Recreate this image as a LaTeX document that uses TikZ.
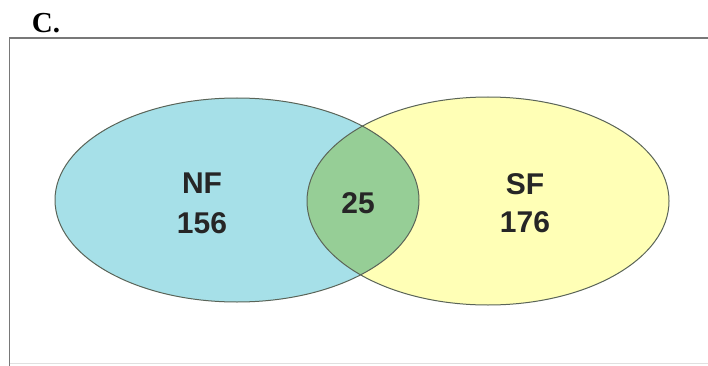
\documentclass[tikz,border=0pt]{standalone}
\usepackage{fontspec}
\setmainfont{Liberation Serif}
\newfontfamily\labelfont{Liberation Sans}
\definecolor{nfcyan}{RGB}{166,224,232}
\definecolor{sfyellow}{RGB}{255,255,182}
\definecolor{overlapgreen}{RGB}{150,206,150}
\definecolor{rimline}{RGB}{90,100,88}
\definecolor{framegray}{RGB}{120,120,120}
\begin{document}
\begin{tikzpicture}[x=1pt,y=-1pt,
  setlabel/.style={font=\labelfont\bfseries\fontsize{30}{30}\selectfont, text=black!85, inner sep=0pt},
  rim/.style={draw=rimline, line width=1pt}]
\useasboundingbox (0,0) rectangle (708,366);
\fill[white] (0,0) rectangle (708,366);
% panel frame
\draw[framegray, line width=1.2pt] (708,38) -- (9.5,38) -- (9.5,366);
\draw[black!12, line width=0.8pt] (9.5,363) -- (708,363);
% panel letter
\node[font=\bfseries\fontsize{29}{29}\selectfont, inner sep=0pt] (panel) at (46,23) {C.};
% sets
\fill[nfcyan] (237,200) ellipse [x radius=182, y radius=102];
\fill[sfyellow] (488,201) ellipse [x radius=181, y radius=104];
\begin{scope}
  \clip (237,200) ellipse [x radius=182, y radius=102];
  \fill[overlapgreen] (488,201) ellipse [x radius=181, y radius=104];
\end{scope}
\draw[rim] (237,200) ellipse [x radius=182, y radius=102];
\draw[rim] (488,201) ellipse [x radius=181, y radius=104];
% counts
\node[setlabel] (nf) at (202,183) {NF};
\node[setlabel] (nfn) at (202,223) {156};
\node[setlabel] (both) at (358,203) {25};
\node[setlabel] (sf) at (525,184) {SF};
\node[setlabel] (sfn) at (525,222) {176};
\end{tikzpicture}
\end{document}
